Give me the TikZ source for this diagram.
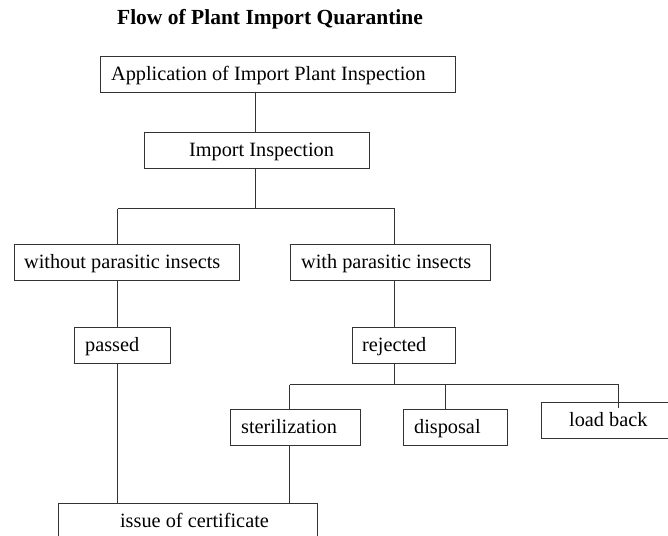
\documentclass[tikz,border=0pt]{standalone}
\usepackage{fontspec}
\setmainfont{Liberation Serif}
\newcommand{\lbx}[2]{\makebox[#1][l]{#2}}
\begin{document}
\begin{tikzpicture}[x=1pt,y=1pt,
  box/.style={draw=black!80, line width=1.2pt, rectangle, anchor=north west,
    font=\fontsize{20.3}{23}\selectfont,
    minimum height=36pt, inner ysep=0pt, text height=13.4pt, text depth=0pt},
  conn/.style={draw=black!80, line width=1.1pt}]
\useasboundingbox (0,0) rectangle (668,-535);
\fill[white] (0,0) rectangle (668,-535);
\node[font=\bfseries\fontsize{21.5}{24}\selectfont] (title) at (270,-19) {Flow of Plant Import Quarantine};
% boxes: fixed-width text = W - 2*pad
\node[box, inner xsep=11pt] (app) at (99.5,-55.5) {\lbx{333pt}{Application of Import Plant Inspection}};
\node[box, inner xsep=45pt] (insp) at (143.5,-131.5) {\lbx{135pt}{Import Inspection}};
\node[box, inner xsep=10pt] (without) at (13.5,-243.5) {\lbx{205pt}{without parasitic insects}};
\node[box, inner xsep=11pt] (with) at (289.5,-243.5) {\lbx{178pt}{with parasitic insects}};
\node[box, inner xsep=11pt] (passed) at (73.5,-326.5) {\lbx{74pt}{passed}};
\node[box, inner xsep=10pt] (rejected) at (351.5,-326.5) {\lbx{83pt}{rejected}};
\node[box, inner xsep=11pt] (steril) at (229.5,-408.5) {\lbx{108pt}{sterilization}};
\node[box, inner xsep=11pt] (disposal) at (402.5,-408.5) {\lbx{82pt}{disposal}};
\node[box, inner xsep=28pt] (loadback) at (540.5,-401.5) {\lbx{71pt}{load back}};
\node[box, inner xsep=62pt] (cert) at (57.5,-502.5) {\lbx{135pt}{issue of certificate}};
% junction coordinates
\coordinate (s1) at (255.5,-208.5);
\coordinate (l1) at (117.5,-208.5);
\coordinate (r1) at (394.5,-208.5);
\coordinate (s2) at (394.5,-384.5);
\coordinate (a2) at (289.5,-384.5);
\coordinate (b2) at (445.5,-384.5);
\coordinate (c2) at (618.5,-384.5);
\coordinate (lbend) at (618.5,-408);
% connectors
\draw[conn] (s1 |- app.south) -- (s1 |- insp.north);
\draw[conn] (insp.south -| s1) -- (s1);
\draw[conn] (l1) -- (r1);
\draw[conn] (l1) -- (l1 |- without.north);
\draw[conn] (r1) -- (r1 |- with.north);
\draw[conn] (l1 |- without.south) -- (l1 |- passed.north);
\draw[conn] (l1 |- passed.south) -- (l1 |- cert.north);
\draw[conn] (r1 |- with.south) -- (r1 |- rejected.north);
\draw[conn] (r1 |- rejected.south) -- (s2);
\draw[conn] (a2) -- (c2);
\draw[conn] (a2) -- (a2 |- steril.north);
\draw[conn] (b2) -- (b2 |- disposal.north);
\draw[conn] (c2) -- (lbend);
\draw[conn] (a2 |- steril.south) -- (a2 |- cert.north);
\end{tikzpicture}
\end{document}
